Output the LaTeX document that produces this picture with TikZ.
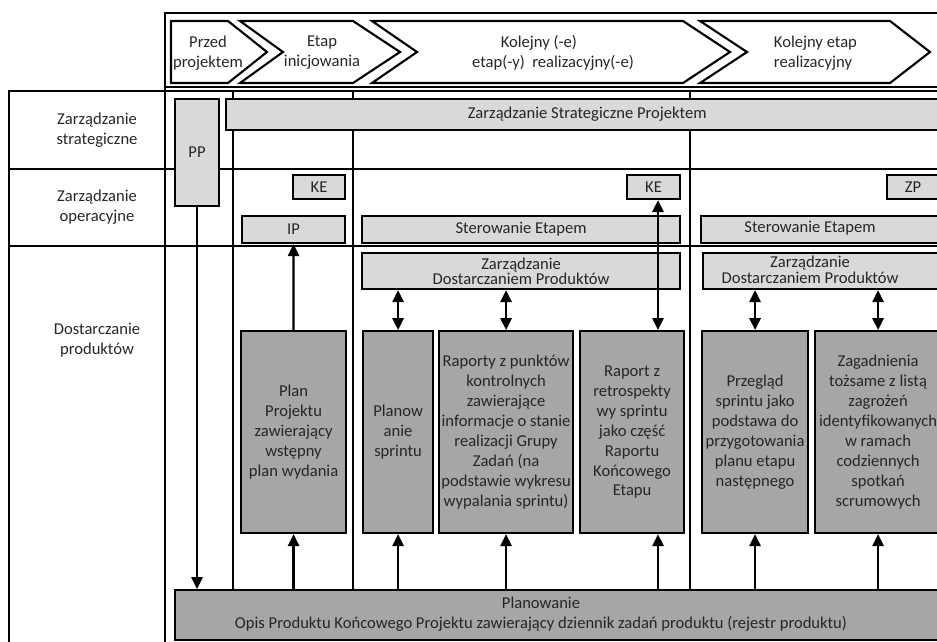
\documentclass[tikz,border=0pt]{standalone}
\usepackage{fontspec}
\setmainfont{Carlito}
\usetikzlibrary{positioning,arrows.meta,calc}
\definecolor{lightbox}{HTML}{D9D9D9}
\definecolor{darkbox}{HTML}{A6A6A6}
\definecolor{ink}{HTML}{262626}

\begin{document}
\begin{tikzpicture}[
    x=0.025cm, y=-0.025cm,
    font=\fontsize{11.8}{14.2}\selectfont,
    text=ink,
    >={Triangle[length=8.5pt,width=8pt]},
    grid/.style={line width=1.5pt},
    chev/.style={draw, line width=1.5pt},
    box/.style={draw, line width=1.5pt, anchor=north west, inner sep=0pt, align=center},
    light/.style={box, fill=lightbox},
    dark/.style={box, fill=darkbox},
    tight/.style={font=\fontsize{11.8}{11}\selectfont},
    arrow/.style={->, line width=1.6pt},
    dblarrow/.style={<->, line width=1.6pt}
]
\useasboundingbox (0,0) rectangle (937,641);
\clip (0,0) rectangle (937,641);

% --- Table grid ---
\draw[grid] (945,13) -- (165,13) -- (165,645);
\draw[grid] (165,87) -- (945,87);
\draw[grid] (9,645) -- (9,91) -- (945,91);
\draw[grid] (9,169) -- (945,169);
\draw[grid] (9,246) -- (945,246);
\foreach \x in {233,353,690}
    \draw[grid] (\x,91) -- (\x,589);

% --- Phases ---
\draw[chev] (171,21) -- (228,21) -- (267,52) -- (228,83) -- (171,83) -- cycle;
\draw[chev] (240,21) -- (353,21) -- (400,52) -- (353,83) -- (240,83) -- (283,52) -- cycle;
\draw[chev] (372,21) -- (683,21) -- (730,52) -- (683,83) -- (372,83) -- (417,52) -- cycle;
\draw[chev] (700,21) -- (890,21) -- (930,52) -- (890,83) -- (700,83) -- (747,52) -- cycle;

\node[align=center] (przed) at (208,53) {Przed\\projektem};
\node[align=center] (inic) at (322,53) {Etap\\inicjowania};
\node[align=center] (kolejne) at (553,53) {Kolejny (-e)\hspace*{20pt}\\etap(-y)\ \ realizacyjny(-e)};
\node[align=left, anchor=west] (kolejny) at (769,53) {Kolejny etap\\realizacyjny};

% --- Row labels ---
\node[align=center] (lstrat) at (97,130) {Zarządzanie\\strategiczne};
\node[align=center] (loper) at (97,207) {Zarządzanie\\operacyjne};
\node[align=center] (ldost) at (97,340) {Dostarczanie\\produktów};

% --- Management boxes ---
\node[light, minimum width=18.05cm, minimum height=0.775cm] (zsp) at (225,98) {Zarządzanie Strategiczne Projektem};
\node[light, minimum width=1.1cm, minimum height=2.675cm] (pp) at (174,98) {PP};
\node[light, minimum width=1.3cm, minimum height=0.6cm] (ke1) at (292,174) {KE};
\node[light, minimum width=1.325cm, minimum height=0.6cm] (ke2) at (626,174) {KE};
\node[light, minimum width=1.3cm, minimum height=0.6cm] (zp) at (886,174) {ZP};
\node[light, minimum width=2.575cm, minimum height=0.675cm] (ip) at (241,215) {IP};
\node[light, minimum width=7.95cm, minimum height=0.675cm] (ster1) at (361,215) {Sterowanie Etapem};
\node[light, minimum width=6.5cm, minimum height=0.675cm] (ster2) at (700,215) {};
\node (ster2txt) at (810,228.5) {Sterowanie Etapem};
\node[light, tight, minimum width=7.95cm, minimum height=0.9cm] (zdp1) at (361,252) {Zarządzanie\\Dostarczaniem Produktów};
\node[light, minimum width=6.5cm, minimum height=0.9cm] (zdp2) at (702,252) {};
\node[tight, align=center] (zdp2txt) at (810,270) {Zarządzanie\\Dostarczaniem Produktów};

% --- Products ---
\node[dark, minimum width=2.625cm, minimum height=5.05cm] (pplan) at (240,330) {Plan\\Projektu\\zawierający\\wstępny\\plan wydania};
\node[dark, minimum width=1.75cm, minimum height=5.05cm] (sprint) at (362,330) {Planow\\anie\\sprintu};
\node[dark, minimum width=3.35cm, minimum height=5.05cm] (rap) at (438,330) {Raporty z punktów\\kontrolnych\\zawierające\\informacje o stanie\\realizacji Grupy\\Zadań (na\\podstawie wykresu\\wypalania sprintu)};
\node[dark, minimum width=2.6cm, minimum height=5.05cm] (retro) at (579,330) {Raport z\\retrospekty\\wy sprintu\\jako część\\Raportu\\Końcowego\\Etapu};
\node[dark, minimum width=2.65cm, minimum height=5.05cm] (przeg) at (701,330) {Przegląd\\sprintu jako\\podstawa do\\przygotowania\\planu etapu\\następnego};
\node[dark, minimum width=3.15cm, minimum height=5.05cm] (zag) at (814,330) {Zagadnienia\\tożsame z listą\\zagrożeń\\identyfikowanych\\w ramach\\codziennych\\spotkań\\scrumowych};

% --- Planowanie ---
\node[dark, minimum width=19.25cm, minimum height=1.25cm] (planow) at (174,589) {};
\node[align=center] (planowtxt) at (541,614) {Planowanie\\Opis Produktu Końcowego Projektu zawierający dziennik zadań produktu (rejestr produktu)};

% --- Arrows ---
\coordinate (retrox) at (658,0);
\draw[arrow] (pplan.north) -- (ip.south);
\draw[arrow] (pp.south) -- (pp.south |- planow.north);
\foreach \b in {pplan,sprint,rap,przeg,zag}
    \draw[arrow] (planow.north -| \b.south) -- (\b.south);
\draw[arrow] (planow.north -| retrox) -- (retro.south -| retrox);
\draw[dblarrow] (ke2.south -| retrox) -- (retro.north -| retrox);
\foreach \b in {sprint,rap}
    \draw[dblarrow] (zdp1.south -| \b.north) -- (\b.north);
\foreach \b in {przeg,zag}
    \draw[dblarrow] (zdp2.south -| \b.north) -- (\b.north);

\end{tikzpicture}
\end{document}
